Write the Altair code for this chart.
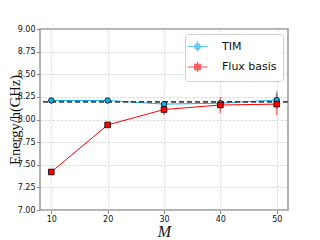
import altair as alt
import pandas as pd

M = [10, 20, 30, 40, 50]
series_names = ["TIM", "Flux basis"]
tim_energy = [8.21, 8.21, 8.17, 8.18, 8.215]
tim_err = [0.01, 0.01, 0.02, 0.02, 0.10]
flux_energy = [7.42, 7.94, 8.11, 8.16, 8.17]
flux_err = [0.02, 0.02, 0.06, 0.09, 0.12]
reference_energy = [8.195]
x_ticks = [10, 20, 30, 40, 50]
y_ticks = [7.0, 7.25, 7.5, 7.75, 8.0, 8.25, 8.5, 8.75, 9.0]
colors = ["#12aef0", "#ff0000"]

rows = []
for name, vals, errs in [("TIM", tim_energy, tim_err), ("Flux basis", flux_energy, flux_err)]:
    for m, v, e in zip(M, vals, errs):
        rows.append({"M": m, "series": name, "E": v, "lo": v - e, "hi": v + e})
df = pd.DataFrame(rows)

xscale = alt.Scale(domain=[8, 52], nice=False, zero=False)
yscale = alt.Scale(domain=[7, 9], nice=False, zero=False)
# data-derived domain (sorted: "Flux basis", "TIM") so its hidden legend does not
# merge with (and disable) the explicit-domain legend below
color_scale = alt.Scale(range=[colors[1], colors[0]])

common_axis = dict(
    domain=False, grid=True, gridColor="#c8c8c8", gridDash=[2, 2], gridWidth=0.8,
    tickColor="#888", tickSize=3.5, tickWidth=1, labelFont="DejaVu Sans", labelFontSize=8,
    labelColor="#111", labelPadding=1.5, titleFontWeight="normal", titleColor="#111",
)
x_axis = alt.Axis(values=x_ticks, title="M", titleFont="Liberation Serif", titleFontStyle="italic",
                  titleFontSize=16, titlePadding=0, **common_axis)
y_axis = alt.Axis(values=y_ticks, format=".2f", title="Energy/h(GHz)", titleFont="Liberation Serif",
                  titleFontSize=14.5, titleX=-21, titleY=90.5, titleAngle=270, titleAlign="center",
                  titleBaseline="alphabetic", **common_axis)

X = alt.X("M:Q", scale=xscale, axis=x_axis)
base = alt.Chart(df).encode(x=X)
col = alt.Color("series:N", scale=color_scale, legend=None)

errbars = base.mark_rule(strokeWidth=1.8, opacity=0.5).encode(
    y=alt.Y("lo:Q", scale=yscale, axis=y_axis), y2="hi:Q", color=col)
lines = base.mark_line(strokeWidth=1).encode(
    y=alt.Y("E:Q", scale=yscale, axis=y_axis), color=col)
ref_line = alt.Chart(pd.DataFrame({"E": reference_energy})).mark_rule(
    strokeDash=[5, 3], color="#444", strokeWidth=1.6).encode(y=alt.Y("E:Q", scale=yscale, axis=y_axis))
pts_tim = base.transform_filter(alt.datum.series == "TIM").mark_point(
    shape="circle", filled=True, size=30, stroke="black", strokeWidth=0.8, opacity=1).encode(
    y=alt.Y("E:Q", scale=yscale, axis=y_axis), color=col)
pts_flux = base.transform_filter(alt.datum.series == "Flux basis").mark_point(
    shape="square", filled=True, size=32, stroke="black", strokeWidth=0.8, opacity=1).encode(
    y=alt.Y("E:Q", scale=yscale, axis=y_axis), color=col)

paths = [
    "M-1.82,0H1.82M0,-0.9V0.9M-0.5,0A0.5,0.5 0 1,1 0.5,0A0.5,0.5 0 1,1 -0.5,0Z",
    "M-1.82,0H1.82M0,-0.9V0.9M-0.5,-0.5H0.5V0.5H-0.5Z",
]
leg = alt.Legend(title=None)
legend_layer = base.mark_point(size=0, strokeWidth=0).encode(
    y=alt.Y("E:Q", scale=yscale, axis=y_axis),
    fill=alt.Fill("series:N", scale=alt.Scale(domain=series_names, range=colors), legend=leg),
    stroke=alt.Stroke("series:N", scale=alt.Scale(domain=series_names, range=colors), legend=leg),
    shape=alt.Shape("series:N", scale=alt.Scale(domain=series_names, range=paths), legend=leg),
)

chart = alt.layer(errbars, lines, ref_line, pts_tim, pts_flux, legend_layer).properties(
    width=248, height=181,
    autosize=alt.AutoSizeParams(type="none"),
    padding={"left": 32, "top": 21, "right": 24, "bottom": 32},
).configure_view(stroke="#999", strokeWidth=1.5).configure_legend(
    orient="top-right", offset=5, fillColor="white",
    strokeColor="#d0d0d0", cornerRadius=3, padding=6, labelFont="DejaVu Sans",
    labelFontSize=11, labelColor="#111", symbolSize=121, symbolStrokeWidth=1.2,
    labelOffset=18, rowPadding=5.5)

chart.save("out.html", embed_options={"renderer": "svg", "actions": False})
